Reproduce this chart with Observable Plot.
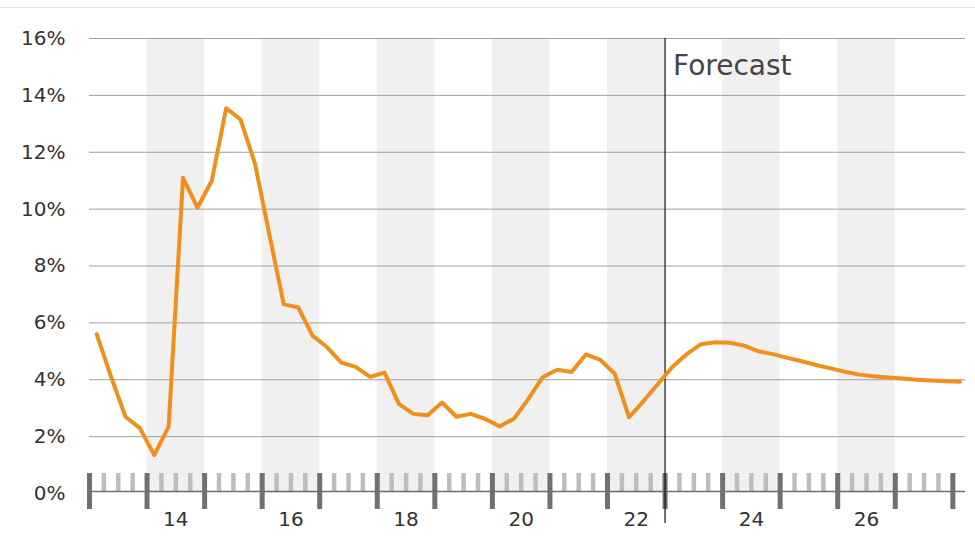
<!DOCTYPE html>
<html><head><meta charset="utf-8">
<script src="https://cdn.jsdelivr.net/npm/d3@7"></script>
<script src="https://cdn.jsdelivr.net/npm/@observablehq/plot@0.6"></script>
<style>
html,body{margin:0;padding:0;background:#fff;}
#wrap{position:relative;width:975px;height:556px;}
#topline{position:absolute;left:0;top:7px;width:975px;height:0;border-top:1px solid #e6e6e6;}
</style></head><body>
<div id="wrap"><div id="topline"></div></div>
<script>
// Quarterly values, starting 2013 Q1 (percent)
const firstYear = 2013;
const rates = [
  5.6, 4.1, 2.7, 2.3,        // 2013
  1.35, 2.35, 11.1, 10.05,   // 2014
  11.0, 13.55, 13.15, 11.6,  // 2015
  9.1, 6.65, 6.55, 5.55,     // 2016
  5.15, 4.6, 4.45, 4.1,      // 2017
  4.25, 3.15, 2.8, 2.75,     // 2018
  3.2, 2.7, 2.8, 2.62,       // 2019
  2.36, 2.63, 3.33, 4.09,    // 2020
  4.35, 4.27, 4.89, 4.7,     // 2021
  4.21, 2.68, 3.25, 3.85,    // 2022
  4.45, 4.9, 5.25, 5.32,     // 2023
  5.3, 5.2, 5.0, 4.9,        // 2024
  4.77, 4.65, 4.52, 4.4,     // 2025
  4.28, 4.18, 4.12, 4.08,    // 2026
  4.04, 4.0, 3.97, 3.95,     // 2027
  3.93                       // 2028
];
const yTicks = [0, 2, 4, 6, 8, 10, 12, 14, 16];
const yearLabels = ["14", "16", "18", "20", "22", "24", "26"];
const shadedYears = [2014, 2016, 2018, 2020, 2022, 2024, 2026];
const majorTickYears = [2013, 2014, 2015, 2016, 2017, 2018, 2019, 2020, 2021, 2022, 2023, 2024, 2025, 2026, 2027, 2028];
const forecastStart = 2023;
const forecastLabel = "Forecast";

const data = rates.map((v, i) => ({t: firstYear + (i + 0.5) / 4, v}));
const minorTicks = [];
for (const y of majorTickYears.slice(0, -1)) for (const q of [1, 2, 3]) minorTicks.push(y + q / 4);

const chart = Plot.plot({
  width: 975, height: 556,
  marginLeft: 89, marginRight: 10, marginTop: 38, marginBottom: 63,
  x: {domain: [2013, 2028.22], axis: null, label: null},
  y: {domain: [0, 16], axis: null, label: null},
  style: {fontFamily: "'DejaVu Sans', sans-serif", color: "#333", background: "#fff"},
  marks: [
    Plot.rect(shadedYears, {x1: d => d, x2: d => d + 1, fill: "#f0f0f0"}),
    Plot.gridY(yTicks.filter(d => d > 0), {stroke: "#a0a0a0", strokeOpacity: 1}),
    Plot.axisY(yTicks, {tickSize: 0, tickPadding: 24, fontSize: 20, label: null, tickFormat: d => d + "%"}),
    Plot.ruleX(minorTicks, {y1: 0, y2: 0, insetTop: -2, insetBottom: 20, stroke: "#bdbdbd", strokeWidth: 4.5}),
    Plot.ruleY([0], {stroke: "#6f6f6f", strokeWidth: 1.5, dy: -2}),
    Plot.ruleX(majorTickYears, {y1: 0, y2: 0, insetTop: 16, insetBottom: 20, stroke: "#707070", strokeWidth: 5}),
    Plot.text(yearLabels, {x: d => 2000 + Number(d) + 0.5, y: 0, text: d => d, dy: 26, fontSize: 20, lineAnchor: "middle", fill: "#333"}),
    Plot.ruleX([forecastStart], {y1: 16, y2: 0, insetBottom: -30, stroke: "#111", strokeWidth: 1.2}),
    Plot.text([forecastLabel], {x: forecastStart, y: 16, text: d => d, textAnchor: "start", lineAnchor: "top", dx: 8, dy: 17, fontSize: 28, fill: "#444"}),
    Plot.line(data, {x: "t", y: "v", stroke: "#f28f1c", strokeWidth: 4, strokeLinejoin: "round", strokeLinecap: "round"})
  ]
});
document.getElementById("wrap").appendChild(chart);
</script>
</body></html>
